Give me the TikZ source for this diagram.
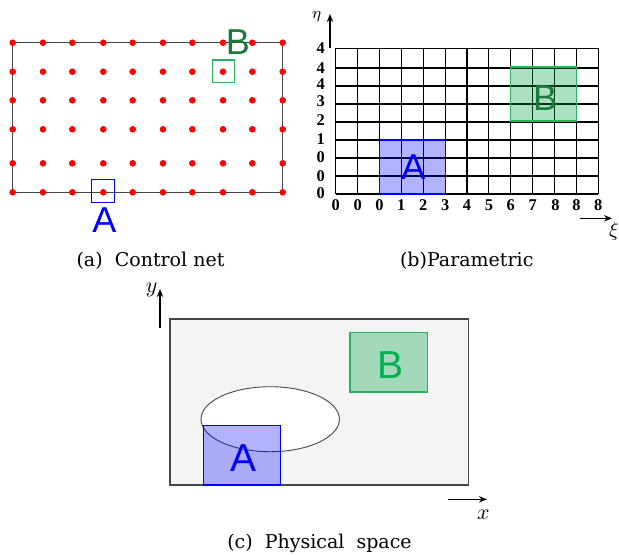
\documentclass[tikz,border=0pt]{standalone}
\usepackage{fontspec}
\setmainfont{Liberation Serif}
\setsansfont{Liberation Sans}
\newfontfamily\capfont{DejaVu Serif}
\usetikzlibrary{arrows.meta}
\definecolor{darkgreen}{RGB}{27,122,58}
\definecolor{midgreen}{RGB}{0,176,80}
\definecolor{boxgreen}{RGB}{40,180,90}
\definecolor{tintgreen}{RGB}{0,160,70}
\definecolor{framegray}{RGB}{70,70,70}
\definecolor{bggray}{RGB}{244,244,244}

\begin{document}
\begin{tikzpicture}[x=0.5pt,y=-0.5pt,>={Stealth[length=4pt,width=3.2pt]},
  cpt/.style={circle,fill=red,inner sep=0pt,minimum size=3.3pt},
  letter/.style={font=\sffamily\fontsize{18}{20}\selectfont,inner sep=0pt},
  bigletter/.style={font=\sffamily\fontsize{19.5}{22}\selectfont,inner sep=0pt},
  num/.style={font=\bfseries\fontsize{8.2}{9}\selectfont,inner sep=0pt},
  caption/.style={font=\capfont\fontsize{9.5}{11}\selectfont,inner sep=0pt},
  axis/.style={->,line width=0.7pt},
  patchA/.style={draw=blue,fill=blue,fill opacity=0.3,line width=0.6pt},
  patchB/.style={draw=boxgreen,fill=tintgreen,fill opacity=0.33,line width=0.6pt}]
  \useasboundingbox (0,0) rectangle (619,554);

  % (a) control net
  \draw[framegray,line width=0.6pt] (12.7,42.7) rectangle (282.7,192.3);
  \foreach \px in {12.7,43,72.3,103.3,132.7,163,192.3,223,252.3,282.7}
    \foreach \py in {42.7,71.7,100.3,129.3,163.3,192.3}
      \node[cpt] at (\px,\py) {};
  \draw[blue,line width=0.6pt] (91.7,179.7) rectangle (114.3,202.3);
  \draw[boxgreen,line width=0.6pt] (212.3,60) rectangle (234.7,82.3);
  \node[letter,blue] (netA) at (104.3,220) {A};
  \node[letter,darkgreen] (netB) at (238,41.7) {B};
  \node[caption] (capA) at (150.5,260.7) {(a)\ \ Control net};

  % (b) parametric
  \foreach \gx in {335.7,357.6,379.5,401.3,423.2,445.1,467.0,488.9,510.7,532.6,554.5,576.4,598.3}
    \draw[line width=0.55pt] (\gx,48.3) -- (\gx,194);
  \foreach \gy in {48.3,68,86,104,122,140,158,176,194}
    \draw[line width=0.55pt] (335.7,\gy) -- (598.3,\gy);
  \draw[patchA] (379.5,140) rectangle (445.1,194);
  \draw[patchB] (510.7,67) rectangle (576.4,121);
  \node[letter,blue] (parA) at (413.3,166.7) {A};
  \node[letter,darkgreen] (parB) at (545,98.3) {B};
  \foreach \gy/\lab in {48.3/4,68/4,84/4,101/3,120/2,139.3/1,157.3/0,176/0,192.7/0}
    \node[num] at (320.7,\gy) {\lab};
  \foreach \gx/\lab in {335.7/0,357.6/0,379.5/0,401.3/1,423.2/2,445.1/3,467.0/4,488.9/5,510.7/6,532.6/7,555.5/8,576.4/8,598.3/8}
    \node[num] at (\gx,205) {\lab};
  \coordinate (etaS) at (330,48.3);
  \coordinate (etaE) at (330,14);
  \draw[axis] (etaS) -- (etaE);
  \node (eta) at (316.7,17) {\fontsize{8.5}{9}\selectfont$\eta$};
  \coordinate (xiS) at (580,218.3);
  \coordinate (xiE) at (612,218.3);
  \draw[axis] (xiS) -- (xiE);
  \node (xi) at (614,231) {$\xi$};
  \node[caption] (capB) at (466.7,260.7) {(b)Parametric};

  % (c) physical space
  \draw[framegray,fill=bggray,line width=0.6pt] (170,319) rectangle (468.3,485);
  \draw[patchB] (350,332.7) rectangle (427.3,392);
  \draw[framegray,fill=white,line width=0.45pt] (270.2,419.2) ellipse [x radius=34.6pt,y radius=16.25pt];
  \draw[patchA] (203.3,425.7) rectangle (280.7,485);
  \node[bigletter,blue] (phyA) at (243.3,458.3) {A};
  \node[bigletter,midgreen] (phyB) at (390,365) {B};
  \coordinate (yS) at (160,328.3);
  \coordinate (yE) at (160,289);
  \draw[axis] (yS) -- (yE);
  \node (ylab) at (151.7,290) {\fontsize{11}{12}\selectfont$y$};
  \coordinate (xS) at (448.3,499.3);
  \coordinate (xE) at (487,499.3);
  \draw[axis] (xS) -- (xE);
  \node (xlab) at (483.3,515) {\fontsize{11}{12}\selectfont$x$};
  \node[caption] (capC) at (319.5,543.3) {(c)\ \ Physical\ \ space};
\end{tikzpicture}
\end{document}
